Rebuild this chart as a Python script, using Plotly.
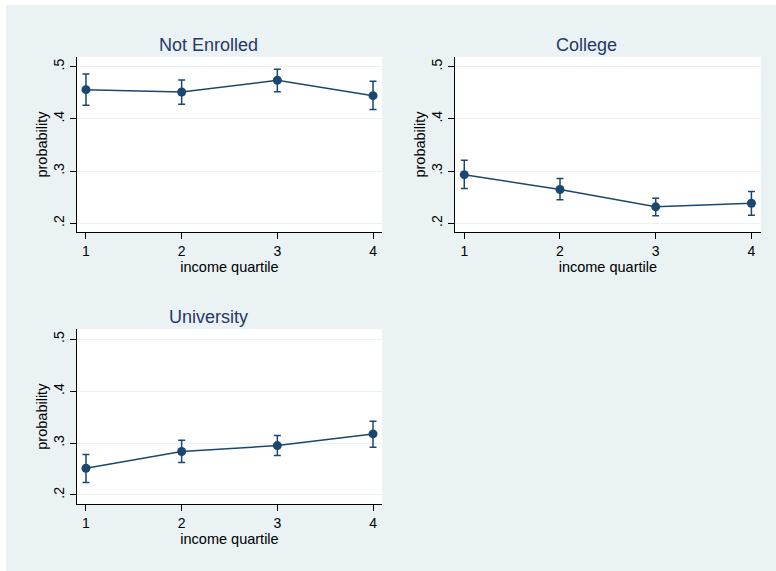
import plotly.graph_objects as go

# Predicted probability of enrollment status by income quartile (with 95% CIs)
quartiles = [1, 2, 3, 4]

not_enrolled = [0.456, 0.4515, 0.474, 0.4445]
not_enrolled_hi = [0.486, 0.4745, 0.495, 0.472]
not_enrolled_lo = [0.426, 0.428, 0.452, 0.418]

college = [0.293, 0.2645, 0.2313, 0.2383]
college_hi = [0.3207, 0.2856, 0.248, 0.2607]
college_lo = [0.2664, 0.2447, 0.214, 0.2154]

university = [0.2514, 0.2836, 0.2951, 0.3176]
university_hi = [0.2778, 0.3054, 0.3144, 0.342]
university_lo = [0.2238, 0.2624, 0.2759, 0.2919]

panel_titles = ["Not Enrolled", "College", "University"]
y_ticks = [0.2, 0.3, 0.4, 0.5]
y_tick_labels = [".2", ".3", ".4", ".5"]
x_ticks = [1, 2, 3, 4]
x_tick_labels = ["1", "2", "3", "4"]

W, H = 776, 571
BG = "#EAF2F3"
NAVY = "#1A476F"
TITLE_COLOR = "#26386A"
FONT = "Liberation Sans, Arial, sans-serif"


def px_x(v):
    return v / W


def px_y(v):
    return 1 - v / H


# panel plot regions in pixels: (left, right, top, bottom)
regions = [
    (76.7, 382.3, 56.7, 232.3),
    (455.0, 760.7, 56.7, 232.3),
    (76.7, 382.3, 329.3, 504.0),
]
title_pos = [(208, 45), (586, 45), (208, 317)]

series = [
    (not_enrolled, not_enrolled_hi, not_enrolled_lo),
    (college, college_hi, college_lo),
    (university, university_hi, university_lo),
]

fig = go.Figure()

for i, (vals, hi, lo) in enumerate(series):
    suffix = "" if i == 0 else str(i + 1)
    fig.add_trace(
        go.Scatter(
            x=quartiles,
            y=vals,
            mode="lines+markers",
            line=dict(color=NAVY, width=1.5),
            marker=dict(color=NAVY, size=9),
            error_y=dict(
                type="data",
                symmetric=False,
                array=[h - v for h, v in zip(hi, vals)],
                arrayminus=[v - l for v, l in zip(vals, lo)],
                color=NAVY,
                thickness=1.5,
                width=3.5,
            ),
            xaxis="x" + suffix,
            yaxis="y" + suffix,
            showlegend=False,
        )
    )

layout_axes = {}
for i, (l, r, t, b) in enumerate(regions):
    suffix = "" if i == 0 else str(i + 1)
    layout_axes["xaxis" + suffix] = dict(
        domain=[px_x(l), px_x(r)],
        anchor="y" + suffix,
        range=[0.903, 4.097],
        tickvals=x_ticks,
        ticktext=x_tick_labels,
        ticks="outside",
        ticklen=6,
        tickwidth=1,
        tickcolor="#000000",
        showline=True,
        linecolor="#000000",
        linewidth=1,
        showgrid=False,
        zeroline=False,
        tickfont=dict(family=FONT, size=14, color="#000000"),
        title=dict(
            text="income quartile",
            font=dict(family=FONT, size=14.5, color="#000000"),
            standoff=0,
        ),
    )
    layout_axes["yaxis" + suffix] = dict(
        domain=[px_y(b), px_y(t)],
        anchor="x" + suffix,
        range=[0.1825, 0.5192],
        tickvals=y_ticks,
        ticktext=y_tick_labels,
        tickangle=-90,
        ticks="outside",
        ticklen=6,
        tickwidth=1,
        tickcolor="#000000",
        showline=True,
        linecolor="#000000",
        linewidth=1,
        showgrid=True,
        gridcolor=BG,
        gridwidth=1,
        zeroline=False,
        tickfont=dict(family=FONT, size=14, color="#000000"),
        title=dict(
            text="probability",
            font=dict(family=FONT, size=14.5, color="#000000"),
            standoff=0,
        ),
    )

annotations = [
    dict(
        text=txt,
        x=px_x(x),
        y=px_y(y),
        xref="paper",
        yref="paper",
        xanchor="center",
        yanchor="middle",
        showarrow=False,
        font=dict(family=FONT, size=18, color=TITLE_COLOR),
    )
    for txt, (x, y) in zip(panel_titles, title_pos)
]

shapes = [
    # graph background behind all panels
    dict(
        type="rect",
        xref="paper",
        yref="paper",
        x0=px_x(6),
        x1=1,
        y0=0,
        y1=px_y(5),
        fillcolor=BG,
        line=dict(width=0),
        layer="below",
    )
]
for l, r, t, b in regions:
    shapes.append(
        dict(
            type="rect",
            xref="paper",
            yref="paper",
            x0=px_x(l),
            x1=px_x(r),
            y0=px_y(b),
            y1=px_y(t),
            fillcolor="#FFFFFF",
            line=dict(width=0),
            layer="below",
        )
    )

fig.update_layout(
    width=W,
    height=H,
    margin=dict(l=0, r=0, t=0, b=0),
    paper_bgcolor="#FFFFFF",
    plot_bgcolor="rgba(0,0,0,0)",
    annotations=annotations,
    shapes=shapes,
    **layout_axes,
)

fig.write_html("out.html")
